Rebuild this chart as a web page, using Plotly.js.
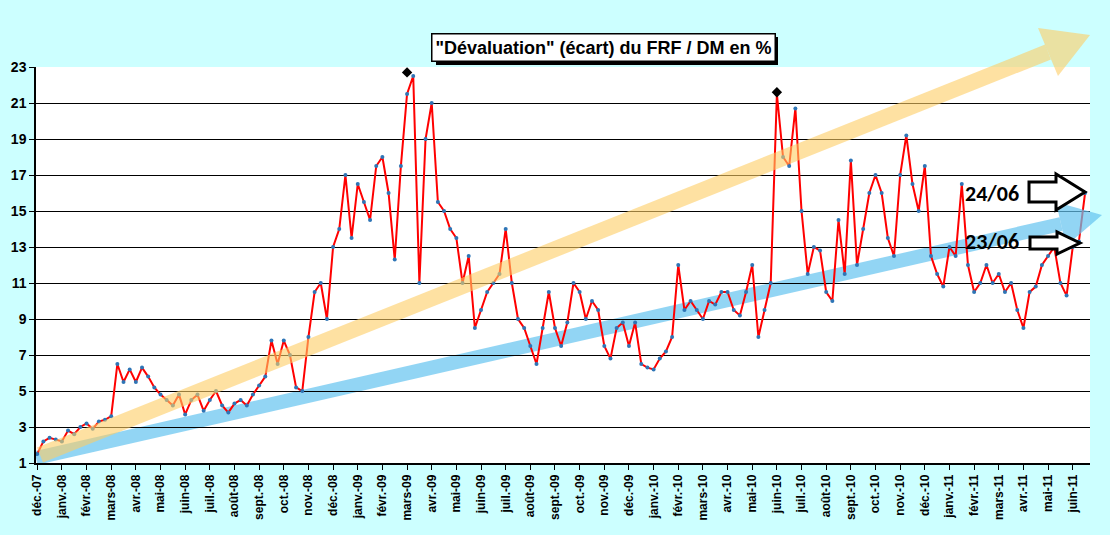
<!DOCTYPE html>
<html><head><meta charset="utf-8">
<script src="https://cdn.plot.ly/plotly-3.0.1.min.js"></script>
<style>body{margin:0;background:#CCFFFF}</style>
</head><body>
<div id="chart" style="width:1110px;height:535px"></div>
<script>
var months = ["déc.-07","janv.-08","févr.-08","mars-08","avr.-08","mai-08","juin-08","juil.-08","août-08","sept.-08","oct.-08","nov.-08","déc.-08",
  "janv.-09","févr.-09","mars-09","avr.-09","mai-09","juin-09","juil.-09","août-09","sept.-09","oct.-09","nov.-09","déc.-09",
  "janv.-10","févr.-10","mars-10","avr.-10","mai-10","juin-10","juil.-10","août-10","sept.-10","oct.-10","nov.-10","déc.-10",
  "janv.-11","févr.-11","mars-11","avr.-11","mai-11","juin-11"];
var yTicks = [1,3,5,7,9,11,13,15,17,19,21,23];

// weekly readings, four per month
var ecart = [
  1.5,2.2,2.4,2.3, 2.2,2.8,2.6,3.0, 3.2,2.9,3.3,3.4, 3.6,6.5,5.5,6.2,
  5.5,6.3,5.8,5.2, 4.8,4.5,4.2,4.8, 3.7,4.5,4.8,3.9, 4.5,5.0,4.2,3.8,
  4.3,4.5,4.2,4.8, 5.3,5.8,7.8,6.5, 7.8,7.0,5.2,5.0, 8.0,10.5,11,9.0,
  13,14,17,13.5, 16.5,15.5,14.5,17.5, 18,16,12.3,17.5, 21.5,22.5,11,19,
  21,15.5,15,14, 13.5,11,12.5,8.5, 9.5,10.5,11,11.5, 14,11,9,8.5,
  7.5,6.5,8.5,10.5, 8.5,7.5,8.8,11, 10.5,9,10,9.5, 7.5,6.8,8.5,8.8,
  7.5,8.8,6.5,6.3, 6.2,6.8,7.2,8, 12,9.5,10,9.5, 9,10,9.8,10.5,
  10.5,9.5,9.2,10.5, 12,8,9.5,11, 21.5,18,17.5,20.7, 15,11.5,13,12.8,
  10.5,10,14.5,11.5, 17.8,12,14,16, 17,16,13.5,12.5, 17,19.2,16.5,15,
  17.5,12.5,11.5,10.8, 13,12.5,16.5,12, 10.5,11,12,11, 11.5,10.5,11,9.5,
  8.5,10.5,10.8,12, 12.5,13,11,10.3, 13,13.3,16
];
var peakX = [15.0, 30.0];
var peakY = [22.7, 21.6];

var xs = ecart.map(function(v, i) { return i / 4; });
var tickvals = months.map(function(m, i) { return i; });
function bold(a) { return a.map(function(t) { return '<b>' + t + '</b>'; }); }

// pixel -> paper helpers (plot area 36..1090 x 67..463)
function px(X) { return (X - 36) / 1054; }
function py(Y) { return (463 - Y) / 396; }
function path(pts) {
  return pts.map(function(p, i) { return (i ? 'L' : 'M') + px(p[0]) + ',' + py(p[1]); }).join(' ') + ' Z';
}

var shapes = [
  {type:'line', xref:'paper', yref:'paper', x0:px(40), y0:py(455), x1:px(1048), y1:py(52),
   line:{color:'rgba(253,205,100,0.6)', width:16}, layer:'above'},
  {type:'path', xref:'paper', yref:'paper', path:path([[1090,35],[1058,76],[1038,28]]),
   fillcolor:'rgba(253,205,100,0.6)', line:{width:0}},
  {type:'line', xref:'paper', yref:'paper', x0:px(36), y0:py(458), x1:px(1061), y1:py(224),
   line:{color:'rgba(100,195,240,0.7)', width:14}, layer:'below'},
  {type:'path', xref:'paper', yref:'paper', path:path([[1102,215],[1066,246],[1056,202]]),
   fillcolor:'rgba(100,195,240,0.7)', line:{width:0}},
  {type:'path', xref:'paper', yref:'paper', path:path([[1029,182],[1056,182],[1056,174],[1085,192],[1056,210],[1056,202],[1029,202]]),
   fillcolor:'white', line:{color:'black', width:3}},
  {type:'path', xref:'paper', yref:'paper', path:path([[1030,237],[1057,237],[1057,232],[1080,243],[1057,254],[1057,249],[1030,249]]),
   fillcolor:'white', line:{color:'black', width:3}},
  // title box shadow
  {type:'rect', xref:'paper', yref:'paper', x0:px(436), x1:px(778), y0:py(37), y1:py(65),
   fillcolor:'black', line:{width:0}}
];

var data = [
  {type:'scatter', mode:'lines+markers', x:xs, y:ecart,
   line:{color:'#FF0000', width:2}, marker:{color:'#2E75B6', size:4}},
  {type:'scatter', mode:'markers', x:peakX, y:peakY,
   marker:{symbol:'diamond', color:'black', size:8}}
];

var layout = {
  width:1110, height:535,
  paper_bgcolor:'#CCFFFF', plot_bgcolor:'white',
  margin:{l:36, r:20, t:67, b:72},
  showlegend:false,
  font:{family:'Liberation Sans, Arial', color:'black'},
  xaxis:{range:[-0.05, 42.7], tickvals:tickvals, ticktext:bold(months), tickangle:-90,
    tickfont:{size:12, family:'Liberation Sans'},
    ticks:'outside', ticklen:5, tickcolor:'black', showgrid:false, zeroline:false,
    showline:true, linecolor:'black', linewidth:1.5},
  yaxis:{range:[1, 23], tickvals:yTicks, ticktext:bold(yTicks),
    tickfont:{size:14, family:'Liberation Sans'},
    ticks:'outside', ticklen:5, tickcolor:'black', gridcolor:'black', gridwidth:1,
    zeroline:false, showline:true, linecolor:'black', linewidth:1.5},
  shapes:shapes,
  annotations:[
    {text:'<b>"Dévaluation" (écart) du FRF / DM en %</b>', xref:'paper', yref:'paper',
     x:px(603), y:py(48), xanchor:'center', yanchor:'middle', showarrow:false,
     font:{size:18, family:'Liberation Sans'},
     bgcolor:'white', bordercolor:'black', borderwidth:1.5, borderpad:3},
    {text:'<b>24/06</b>', xref:'paper', yref:'paper', x:px(992), y:py(193),
     xanchor:'center', yanchor:'middle', showarrow:false,
     font:{size:22, family:'Carlito, Liberation Sans'}},
    {text:'<b>23/06</b>', xref:'paper', yref:'paper', x:px(992), y:py(241),
     xanchor:'center', yanchor:'middle', showarrow:false,
     font:{size:22, family:'Carlito, Liberation Sans'}}
  ]
};

Plotly.newPlot('chart', data, layout, {displayModeBar:false});
</script>
</body></html>
